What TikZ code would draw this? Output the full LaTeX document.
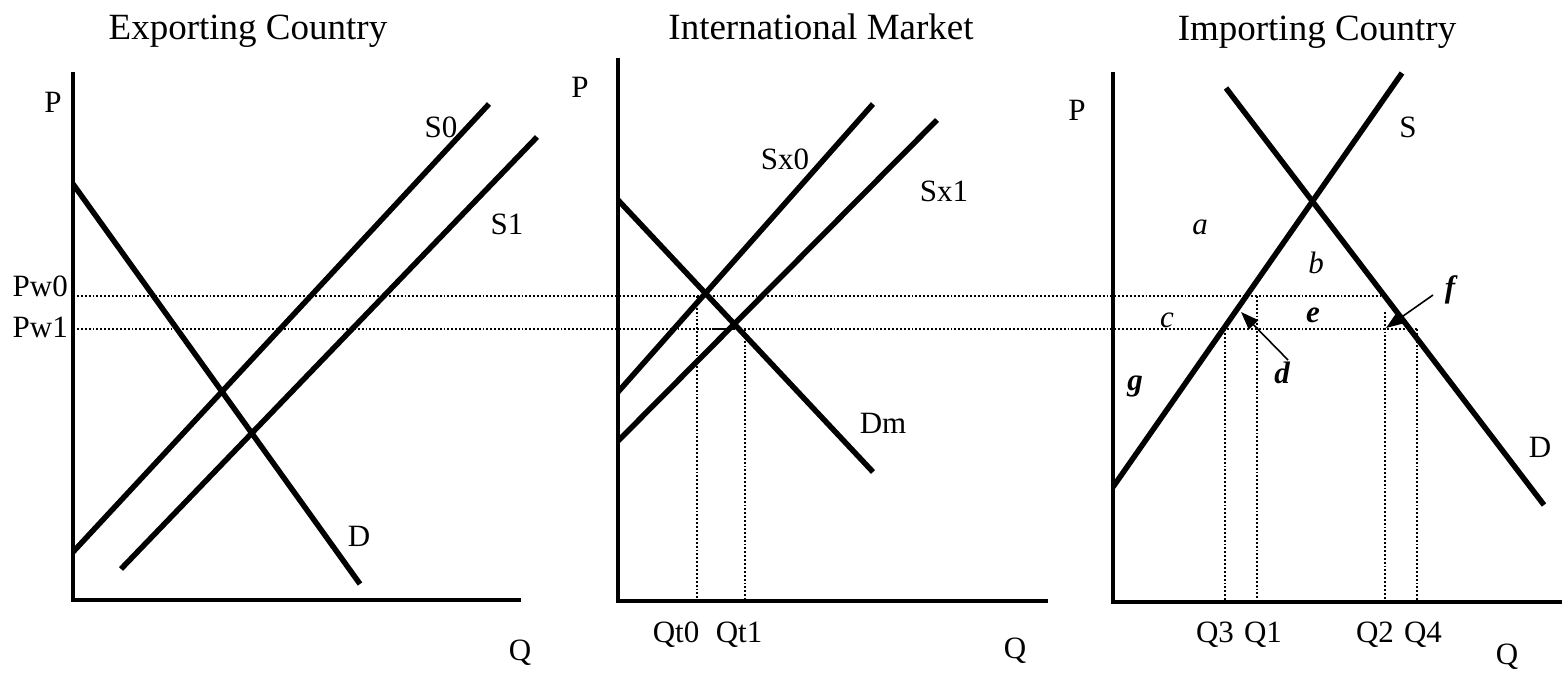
\documentclass[tikz,border=0pt]{standalone}
\usepackage{fontspec}
\setmainfont{Liberation Serif}
\usetikzlibrary{arrows.meta}
\begin{document}
\begin{tikzpicture}[x=1pt,y=-1pt,
  curve/.style={line width=5.5pt},
  axisline/.style={line width=4pt},
  guide/.style={line width=1.9pt, dash pattern=on 1.9pt off 2pt},
  pointer/.style={line width=1.6pt, -{Triangle[length=18pt,width=13pt]}},
  title/.style={font=\fontsize{37}{44}\selectfont, anchor=base, inner sep=0pt},
  lab/.style={font=\fontsize{31}{37}\selectfont, anchor=base, inner sep=0pt},
  ital/.style={lab, font=\fontsize{31}{37}\selectfont\itshape},
  bital/.style={lab, font=\fontsize{31}{37}\selectfont\bfseries\itshape}]
\useasboundingbox (0,0) rectangle (1564,678);

% ---------- titles ----------
\node[title] (t1) at (248,39) {Exporting Country};
\node[title] (t2) at (821,39) {International Market};
\node[title] (t3) at (1317,40) {Importing Country};

% ---------- coordinates ----------
% panel 1
\coordinate (A1top) at (73,72);
\coordinate (A1o) at (73,600);
\coordinate (A1r) at (521,600);
\coordinate (D1a) at (73,184);
\coordinate (D1b) at (360,584);
\coordinate (S0a) at (73,552);
\coordinate (S0b) at (489,104);
\coordinate (S1a) at (121,569);
\coordinate (S1b) at (537,137);
% panel 2
\coordinate (A2top) at (618,58);
\coordinate (A2o) at (618,601);
\coordinate (A2r) at (1048,601);
\coordinate (Dma) at (618,200);
\coordinate (Dmb) at (873,472);
\coordinate (Sx0a) at (618,392);
\coordinate (Sx0b) at (873,104);
\coordinate (Sx1a) at (618,441);
\coordinate (Sx1b) at (937,120);
\coordinate (Qt0t) at (697,296);
\coordinate (Qt0b) at (697,601);
\coordinate (Qt1t) at (745,329);
\coordinate (Qt1b) at (745,601);
\coordinate (tickL) at (712,329);
\coordinate (tickR) at (735,329);
% panel 3
\coordinate (A3top) at (1113,72);
\coordinate (A3o) at (1113,602);
\coordinate (A3r) at (1562,602);
\coordinate (S3a) at (1113,487);
\coordinate (S3b) at (1402,73);
\coordinate (D3a) at (1226,88);
\coordinate (D3b) at (1544,505);
\coordinate (Q3t) at (1225,329);
\coordinate (Q3b) at (1225,602);
\coordinate (Q1t) at (1257,296);
\coordinate (Q1b) at (1257,602);
\coordinate (Q2t) at (1385,312);
\coordinate (Q2b) at (1385,602);
\coordinate (Q4t) at (1417,329);
\coordinate (Q4b) at (1417,602);
% price lines
\coordinate (Pw0a) at (73,296);
\coordinate (Pw0b) at (1383,296);
\coordinate (Pw1a) at (73,329);
\coordinate (Pw1b) at (1417,329);
% arrows
\coordinate (dfrom) at (1288,360);
\coordinate (dto) at (1241,312);
\coordinate (ffrom) at (1433,295);
\coordinate (fto) at (1386,328);

% ---------- dotted guides ----------
\draw[guide] (Pw0a) -- (Pw0b);
\draw[guide] (Pw1a) -- (Pw1b);
\draw[guide] (Qt0t) -- (Qt0b);
\draw[guide] (Qt1t) -- (Qt1b);
\draw[guide] (Q3t) -- (Q3b);
\draw[guide] (Q1t) -- (Q1b);
\draw[guide] (Q2t) -- (Q2b);
\draw[guide] (Q4t) -- (Q4b);
\draw[line width=1.9pt] (tickL) -- (tickR);

% ---------- axes ----------
\draw[axisline] (A1top) -- (A1o) -- (A1r);
\draw[axisline] (A2top) -- (A2o) -- (A2r);
\draw[axisline] (A3top) -- (A3o) -- (A3r);

% ---------- curves ----------
\draw[curve] (D1a) -- (D1b);
\draw[curve] (S0a) -- (S0b);
\draw[curve] (S1a) -- (S1b);
\draw[curve] (Dma) -- (Dmb);
\draw[curve] (Sx0a) -- (Sx0b);
\draw[curve] (Sx1a) -- (Sx1b);
\draw[curve] (S3a) -- (S3b);
\draw[curve] (D3a) -- (D3b);

% ---------- arrows ----------
\draw[pointer] (dfrom) -- (dto);
\draw[pointer] (ffrom) -- (fto);

% ---------- labels panel 1 ----------
\node[lab] (P1) at (53,112) {P};
\node[lab, anchor=base east] (Pw0) at (68,296) {Pw0};
\node[lab, anchor=base east] (Pw1) at (68,337) {Pw1};
\node[lab] (lS0) at (441,137) {S0};
\node[lab] (lS1) at (507,234) {S1};
\node[lab] (lD1) at (359,546) {D};
\node[lab] (Q1ax) at (520,660) {Q};

% ---------- labels panel 2 ----------
\node[lab] (P2) at (580,97) {P};
\node[lab] (lSx0) at (785,169) {Sx0};
\node[lab] (lSx1) at (944,201) {Sx1};
\node[lab] (lDm) at (883,433) {Dm};
\node[lab] (lQt0) at (676,642) {Qt0};
\node[lab] (lQt1) at (739,642) {Qt1};
\node[lab] (Q2ax) at (1015,658) {Q};

% ---------- labels panel 3 ----------
\node[lab] (P3) at (1077,120) {P};
\node[lab] (lS3) at (1408,137) {S};
\node[lab] (lD3) at (1540,457) {D};
\node[ital] (la) at (1200,234) {a};
\node[ital] (lb) at (1316,273) {b};
\node[ital] (lc) at (1167,327) {c};
\node[bital] (le) at (1313,322) {e};
\node[bital] (ld) at (1282,383) {d};
\node[bital] (lg) at (1135,390) {g};
\node[bital] (lf) at (1450,297) {f};
\node[lab] (lQ3) at (1215,642) {Q3};
\node[lab] (lQ1) at (1263,642) {Q1};
\node[lab] (lQ2) at (1375,642) {Q2};
\node[lab] (lQ4) at (1423,642) {Q4};
\node[lab] (Q3ax) at (1507,664) {Q};
\end{tikzpicture}
\end{document}
